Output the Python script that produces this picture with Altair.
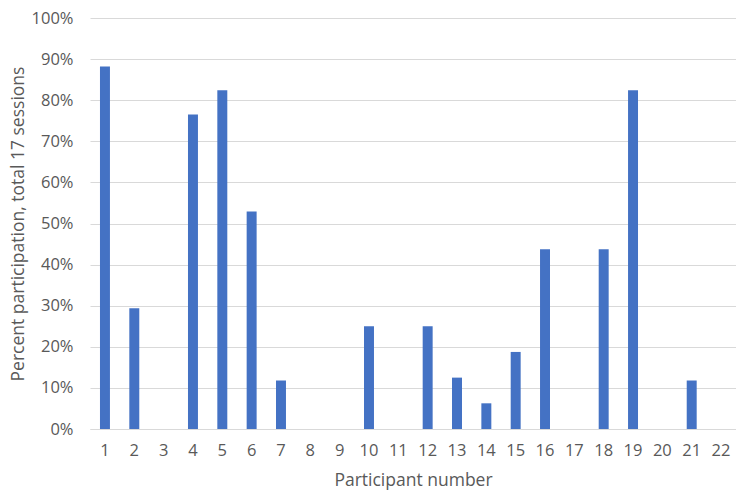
import altair as alt
import pandas as pd

participants = [str(i) for i in range(1, 23)]
participation = [0.882, 0.294, 0.0, 0.765, 0.824, 0.529, 0.118, 0.0, 0.0, 0.25,
                 0.0, 0.25, 0.125, 0.0625, 0.1875, 0.4375, 0.0, 0.4375, 0.824, 0.0,
                 0.118, 0.0]

df = pd.DataFrame({"participant": participants, "pct": participation})

FONT = "Open Sans"
GREY = "#595959"

chart = alt.Chart(df).mark_bar(color="#4472C4").encode(
    x=alt.X("participant:N", sort=participants,
            scale=alt.Scale(paddingInner=0.66, paddingOuter=0.34),
            axis=alt.Axis(title="Participant number", labelAngle=0, ticks=False,
                          domain=True, domainColor="#d9d9d9", labelPadding=13,
                          titlePadding=13, labelFontSize=16.5, titleFontSize=17.5,
                          labelColor=GREY, titleColor=GREY, labelFont=FONT,
                          titleFont=FONT, titleFontWeight="normal")),
    y=alt.Y("pct:Q", scale=alt.Scale(domain=[0, 1]),
            axis=alt.Axis(title="Percent participation, total 17 sessions",
                          format=".0%", values=[i / 10 for i in range(11)],
                          ticks=False, domain=False, gridColor="#d9d9d9",
                          labelPadding=17, titlePadding=4, labelFontSize=16.5,
                          titleFontSize=17.5, labelColor=GREY, titleColor=GREY,
                          labelFont=FONT, titleFont=FONT,
                          titleFontWeight="normal")),
).properties(
    width=646, height=411,
    autosize=alt.AutoSizeParams(type="none"),
    padding={"left": 82, "top": 10, "right": 0, "bottom": 70},
).configure_view(stroke=None)

chart.save("out.html", embed_options={"renderer": "svg", "actions": False})
